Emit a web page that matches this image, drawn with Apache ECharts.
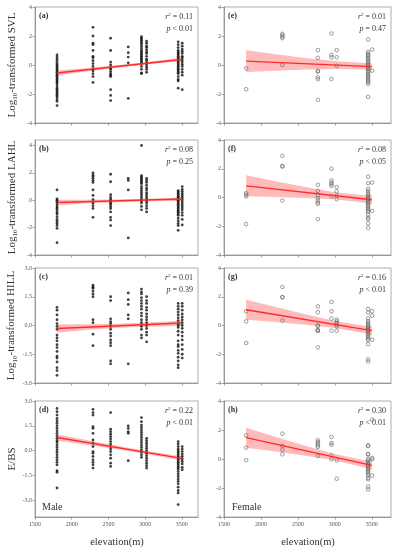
<!DOCTYPE html>
<html><head><meta charset="utf-8">
<script src="https://cdn.jsdelivr.net/npm/echarts@6/dist/echarts.min.js"></script>
<style>html,body{margin:0;padding:0;background:#fff}#c{width:397px;height:550px}</style>
</head><body><div id="c"></div><script>
// ---------- DATA ----------
const maleSites = [1800, 2290, 2530, 2770, 2950, 3020, 3450, 3505];
const femaleSites = [1800, 2290, 2770, 2955, 3025, 3450, 3505];
const xTicks = [1500, 2000, 2500, 3000, 3500];
const yTicks4 = [-4, -2, 0, 2, 4];
const yTicks3 = [-3, -1.5, 0, 1.5, 3];

const maleSVL = [
  [0.7,0.55,0.4,0.25,0.1,0,-0.1,-0.2,-0.3,-0.4,-0.5,-0.6,-0.7,-0.8,-0.9,-1.0,-1.1,-1.2,-1.3,-1.45,-1.6,-1.7,-1.8,-1.9,-2.0,-2.1,-2.2,-2.35,-2.5,-2.8],
  [2.6,2.0,1.5,1.4,1.0,0.6,0.5,0.3,0.1,-0.1,-0.3,-0.4,-0.6,-0.8,-1.2],
  [1.85,1.0,0.2,0.0,-0.2,-0.3,-0.45,-0.6,-0.7,-0.8,-1.7,-2.1,-2.45],
  [1.25,0.85,0.55,0.15,-2.3],
  [1.95,1.85,1.75,1.65,1.55,1.45,1.3,1.15,1.0,0.9,0.8,0.7,0.6,0.5,0.4,0.3,0.2,0.1,-0.1,-0.3,-0.55,-0.6],
  [1.65,1.5,1.3,1.2,1.05,0.9,0.8,0.6,0.4,0.3,0.15,0,-0.15,-0.3,-0.5],
  [1.6,1.4,1.2,1.0,0.9,0.8,0.7,0.6,0.5,0.4,0.3,0.2,0.1,0,-0.1,-0.2,-0.3,-0.4,-0.5,-0.6,-0.8,-1.0,-1.1,-1.6],
  [1.5,1.3,1.1,0.95,0.8,0.6,0.5,0.35,0.2,0.05,-0.1,-0.3,-0.5,-0.7,-1.7]
];
const maleLAHL = [
  [0.75,0.1,0,-0.1,-0.2,-0.35,-0.5,-0.6,-0.75,-0.9,-1.0,-1.2,-1.4,-1.55,-1.7,-1.85,-2.05,-3.1],
  [2.0,1.85,1.75,1.6,1.45,1.3,0.75,0.35,0.05,-0.2,-0.4,-0.6,-1.25],
  [1.9,1.35,0.4,0.2,0.05,-0.05,-0.2,-0.3,-0.45,-0.6,-0.85,-1.25,-1.45,-1.85],
  [1.6,1.45,0.75,-2.75],
  [4.0,1.8,1.7,1.6,1.5,1.4,1.3,1.2,1.0,0.85,0.7,0.55,0.4,0.25,0.1,-0.05,-0.2,-0.45,-0.7],
  [1.6,1.45,1.3,1.1,0.9,0.75,0.55,0.4,0.25,0.1,-0.05,-0.2,-0.4,-0.6,-0.85],
  [0.7,0.6,0.5,0.4,0.3,0.2,0.1,0,-0.1,-0.2,-0.3,-0.4,-0.5,-0.6,-0.7,-0.8,-0.9,-1.0,-1.1,-1.3,-1.5,-1.7,-1.85,-2.2],
  [1.0,0.8,0.65,0.5,0.35,0.2,0.05,-0.1,-0.25,-0.4,-0.55,-0.7,-0.9,-1.1,-1.4,-1.8]
];
const maleHILL = [
  [0.95,0.8,0.55,0.3,0.1,-0.05,-0.2,-0.5,-0.65,-0.8,-1.0,-1.15,-1.35,-1.6,-1.7,-1.9,-2.2,-2.35,-2.6],
  [2.1,2.0,1.95,1.8,1.65,1.5,0.3,0.15,-0.45,-1.05],
  [1.5,1.3,0.35,0.2,0.1,-0.05,-0.2,-0.4,-0.55,-0.75,-0.9,-1.05,-1.85,-2.0],
  [1.7,1.35,1.1,0.55,0.35,-2.0],
  [1.9,1.75,1.65,1.45,1.3,1.15,1.0,0.85,0.65,0.5,0.3,0.15,-0.05,-0.2,-0.5,-0.65],
  [1.5,1.3,1.15,0.95,0.8,0.6,0.45,0.3,0.15,0,-0.15,-0.35,-0.5,-0.85],
  [1.15,1.0,0.85,0.7,0.55,0.4,0.25,0.1,0,-0.1,-0.3,-0.5,-0.8,-1.0,-1.1,-1.3,-1.45,-1.65,-1.85,-2.05,-2.2],
  [1.15,1.0,0.8,0.6,0.45,0.3,0.15,0,-0.15,-0.35,-0.55,-0.75,-1.0,-1.25,-1.5,-1.7]
];
const maleEBS = [
  [2.55,2.35,2.15,1.95,1.8,1.65,1.5,1.35,1.2,1.05,0.9,0.75,0.6,0.5,0.35,0.2,0.05,-0.1,-0.25,-0.4,-0.55,-0.7,-0.85,-1.2,-1.3,-2.25],
  [2.5,2.3,2.15,1.45,1.35,1.05,0.65,0.45,0.25,-0.05,-0.15,-0.35,-0.55,-0.7,-0.85,-1.05],
  [2.3,1.3,1.15,1.0,0.85,0.7,0.55,0.4,0.25,0.1,-0.05,-0.25,-0.45,-0.75,-0.95],
  [1.5,1.35,1.15,1.05,-0.6],
  [2.0,1.75,1.55,1.4,1.25,1.1,0.95,0.8,0.65,0.5,0.35,0.2,0.05,-0.1,-0.25,-0.4],
  [0.75,0.6,0.45,0.3,0.15,0.0,-0.15,-0.3,-0.45,-0.6,-0.75,-0.9,-1.05],
  [0.55,0.4,0.25,0.1,0,-0.1,-0.2,-0.3,-0.4,-0.5,-0.6,-0.7,-0.8,-0.9,-1.0,-1.1,-1.25,-1.4,-1.55,-1.7,-1.85,-2.0,-2.2,-2.4,-2.55,-3.25],
  [0.25,0.1,-0.05,-0.2,-0.35,-0.5,-0.65,-0.8,-1.0,-1.15]
];
const femaleSVL = [
  [-0.23,-1.67],
  [2.15,2.05,1.95,1.85,0],
  [1.03,0.5,-0.4,-0.46,-0.85,-0.98,-2.4],
  [2.17,0.69,0.53,-0.96],
  [1.03,0.53,-0.05],
  [1.76,0.9,0.8,0.7,0.6,0.5,0.4,0.3,0.2,0.1,0.0,-0.1,-0.2,-0.3,-0.4,-0.5,-0.6,-0.7,-0.8,-0.9,-1.0,-1.1,-1.2,-1.3,-2.2],
  [1.07,-0.39]
];
const femaleLAHL = [
  [0.3,0.19,0.07,-1.85],
  [2.9,2.2,2.15,-0.21],
  [0.88,0.46,0.16,-0.05,-0.21,-0.35,-0.44,-1.5],
  [2.0,1.18,1.04,0.93,0.81,0.07],
  [0.72,0.42,0.12,-0.12],
  [1.45,1.0,0.6,0.45,0.3,0.2,0.1,0,-0.1,-0.2,-0.3,-0.4,-0.5,-0.6,-0.7,-0.8,-0.9,-1.0,-1.2,-1.4,-1.5,-1.8,-2.1],
  [1.04,-0.93]
];
const femaleHILL = [
  [0.99,0.29,-1.22],
  [2.68,1.98,1.96,0.36],
  [1.33,0.92,0.01,-0.03,-0.31,-0.34,-0.38,-1.52],
  [1.64,0.99,0.48,-0.36],
  [0.41,0.29,0.17,0.06,-0.06,-0.36],
  [1.15,0.9,0.5,0.3,0.2,0.1,0.0,-0.1,-0.2,-0.3,-0.4,-0.5,-0.6,-0.7,-0.8,-0.9,-1.0,-1.3,-2.35,-2.5],
  [0.99,0.68,-0.99]
];
const femaleEBS = [
  [1.63,0.78,-0.09],
  [1.75,0.9,0.64,0.32],
  [1.29,1.17,1.06,0.94,0.83,0.21],
  [1.52,1.1,0.99,0.25,-0.02],
  [-0.09,-1.36],
  [0.94,0.9,0.35,0.3,0.0,-0.1,-0.2,-0.3,-0.4,-0.5,-0.6,-0.7,-0.8,-0.9,-1.0,-1.1,-1.3,-1.4,-1.9,-2.1],
  [2.71,0.07,-0.02,-1.15]
];

// regression lines (values at fitX) and confidence bands (values at bandX)
const fitX = [1800, 3500];
const fitA = [-0.55, 0.38], fitB = [-0.16, 0.09], fitC = [-0.16, 0.13], fitD = [0.8, -0.46];
const fitE = [0.27, -0.11], fitF = [0.81, -0.16], fitG = [1.1, -0.36], fitH = [1.47, -0.44];
const bandX = [1800, 2200, 2600, 3000, 3400, 3500];
const bandUpA = [-0.38,-0.21,-0.02,0.19,0.44,0.51], bandLoA = [-0.72,-0.45,-0.20,0.03,0.22,0.25];
const bandUpB = [0.04,0.04,0.06,0.11,0.19,0.23],    bandLoB = [-0.36,-0.24,-0.14,-0.07,-0.05,-0.05];
const bandUpC = [0.06,0.06,0.09,0.14,0.24,0.28],    bandLoC = [-0.38,-0.24,-0.13,-0.06,-0.02,-0.02];
const bandUpD = [1.0,0.64,0.31,0.0,-0.27,-0.32],    bandLoD = [0.6,0.36,0.11,-0.18,-0.51,-0.60];
const bandUpE = [1.02,0.75,0.49,0.27,0.13,0.12],    bandLoE = [-0.48,-0.39,-0.31,-0.27,-0.31,-0.34];
const bandUpF = [1.54,1.13,0.73,0.37,0.16,0.16],    bandLoF = [0.08,0.03,-0.03,-0.13,-0.36,-0.48];
const bandUpG = [1.80,1.28,0.78,0.31,-0.01,-0.04],  bandLoG = [0.40,0.24,0.06,-0.17,-0.53,-0.68];
const bandUpH = [2.16,1.52,0.91,0.34,-0.08,-0.12],  bandLoH = [0.78,0.52,0.23,-0.10,-0.58,-0.76];

const panelLabels = ['(a)','(b)','(c)','(d)','(e)','(f)','(g)','(h)'];
const r2Values = ['0.11','0.08','0.01','0.22','0.01','0.08','0.16','0.30'];
const pValues = ['< 0.01','= 0.25','= 0.39','< 0.01','= 0.47','< 0.05','< 0.01','< 0.01'];

// ---------- LAYOUT ----------
const FONT = 'Liberation Serif';
const colLeft = [35, 224], colWidth = [163, 167], colMax = [3720, 3760];
const rowTop = [7, 140, 268, 401], rowHeight = [116, 115, 115, 116];
const TXT = '#333', TICK = '#555', LINE = '#888';

const panels = [
  {col:0,row:0,sites:maleSites,vals:maleSVL,fit:fitA,up:bandUpA,lo:bandLoA,ymin:-4,ymax:4,ticks:yTicks4,dec:0,
   name:'{a|Log}{s|10}{a|-transformed SVL}'},
  {col:0,row:1,sites:maleSites,vals:maleLAHL,fit:fitB,up:bandUpB,lo:bandLoB,ymin:-4,ymax:4.4,ticks:yTicks4,dec:0,
   name:'{a|Log}{s|10}{a|-transformed LAHL}'},
  {col:0,row:2,sites:maleSites,vals:maleHILL,fit:fitC,up:bandUpC,lo:bandLoC,ymin:-3,ymax:3,ticks:yTicks3,dec:1,
   name:'{a|Log}{s|10}{a|-transformed HILL}'},
  {col:0,row:3,sites:maleSites,vals:maleEBS,fit:fitD,up:bandUpD,lo:bandLoD,ymin:-4,ymax:3,ticks:yTicks3,dec:1,
   name:'{a|E/BS}'},
  {col:1,row:0,sites:femaleSites,vals:femaleSVL,fit:fitE,up:bandUpE,lo:bandLoE,ymin:-4,ymax:4,ticks:yTicks4,dec:0},
  {col:1,row:1,sites:femaleSites,vals:femaleLAHL,fit:fitF,up:bandUpF,lo:bandLoF,ymin:-4,ymax:4,ticks:yTicks4,dec:0},
  {col:1,row:2,sites:femaleSites,vals:femaleHILL,fit:fitG,up:bandUpG,lo:bandLoG,ymin:-4,ymax:4,ticks:yTicks4,dec:0},
  {col:1,row:3,sites:femaleSites,vals:femaleEBS,fit:fitH,up:bandUpH,lo:bandLoH,ymin:-4,ymax:4,ticks:yTicks4,dec:0}
];

const grid = [], xAxis = [], yAxis = [], series = [], graphic = [];
panels.forEach((p, i) => {
  const left = colLeft[p.col], top = rowTop[p.row], w = colWidth[p.col], h = rowHeight[p.row];
  grid.push({left, top, width: w, height: h, show: true, borderColor: '#999', borderWidth: 0.8, containLabel: false});
  const lineStyle = {color: LINE, width: 0.8};
  xAxis.push({
    type: 'value', gridIndex: i, min: 1500, max: colMax[p.col],
    axisLine: {show: true, onZero: false, lineStyle}, splitLine: {show: false},
    axisTick: {show: true, length: 2.5, inside: false, customValues: xTicks, lineStyle},
    axisLabel: {show: p.row === 3, customValues: xTicks, fontSize: 6, color: TICK, fontFamily: FONT, margin: 4,
      formatter: v => String(v)}
  });
  yAxis.push({
    type: 'value', gridIndex: i, min: p.ymin, max: p.ymax,
    axisLine: {show: true, onZero: false, lineStyle}, splitLine: {show: false},
    axisTick: {show: true, length: 2.5, customValues: p.ticks, lineStyle},
    axisLabel: {show: true, customValues: p.ticks, fontSize: 6, color: TICK, fontFamily: FONT, margin: 3,
      formatter: v => p.dec ? v.toFixed(1) : String(v)},
    name: p.name || '', nameLocation: 'middle', nameRotate: 90, nameGap: 16,
    nameTextStyle: {color: TXT, fontFamily: FONT, rich: {
      a: {fontSize: 11, fontFamily: FONT, color: TXT, lineHeight: 14},
      s: {fontSize: 7, fontFamily: FONT, color: TXT, lineHeight: 6, verticalAlign: 'bottom'}
    }}
  });
  // band
  series.push({
    type: 'custom', xAxisIndex: i, yAxisIndex: i, silent: true, z: 1,
    data: [[bandX[0], p.lo[0]]],
    renderItem: (params, api) => {
      const upper = bandX.map((x, k) => api.coord([x, p.up[k]]));
      const lower = bandX.map((x, k) => api.coord([x, p.lo[k]])).reverse();
      return {type: 'polygon', shape: {points: upper.concat(lower)}, style: {fill: 'rgba(255,60,60,0.35)'}};
    }
  });
  // points
  const pts = [];
  p.sites.forEach((s, k) => p.vals[k].forEach(v => pts.push([s, v])));
  series.push({
    type: 'scatter', xAxisIndex: i, yAxisIndex: i, data: pts, z: 2,
    symbol: 'circle', symbolSize: p.col === 0 ? 2.8 : 3.6,
    itemStyle: p.col === 0 ? {color: '#111'} : {color: 'rgba(255,255,255,0)', borderColor: '#666', borderWidth: 0.8}
  });
  // regression line
  series.push({
    type: 'line', xAxisIndex: i, yAxisIndex: i, z: 3, showSymbol: false, symbol: 'none',
    data: fitX.map((x, k) => [x, p.fit[k]]),
    lineStyle: {color: '#ff2a2a', width: 1.4}
  });
  // texts
  const lblX = left + 4, rX = left + w - 5;
  graphic.push({type: 'text', x: lblX, y: top + 9, style: {text: panelLabels[i], font: 'bold 8px ' + FONT, fill: TXT, verticalAlign: 'middle'}});
  graphic.push({type: 'text', x: rX, y: top + 10, style: {
    text: '{i|r}{s|2}{n| = ' + r2Values[i] + '}', align: 'right', verticalAlign: 'middle',
    rich: {i: {fontStyle: 'italic', fontSize: 8, fontFamily: FONT, fill: TXT, lineHeight: 10},
           s: {fontSize: 5, fontFamily: FONT, fill: TXT, lineHeight: 5, verticalAlign: 'top'},
           n: {fontSize: 8, fontFamily: FONT, fill: TXT, lineHeight: 10}}}});
  graphic.push({type: 'text', x: rX, y: top + 22, style: {
    text: '{i|p}{n| ' + pValues[i] + '}', align: 'right', verticalAlign: 'middle',
    rich: {i: {fontStyle: 'italic', fontSize: 8, fontFamily: FONT, fill: TXT},
           n: {fontSize: 8, fontFamily: FONT, fill: TXT}}}});
});
graphic.push({type: 'text', x: 42, y: 507, style: {text: 'Male', font: '10px ' + FONT, fill: TXT, verticalAlign: 'middle'}});
graphic.push({type: 'text', x: 232, y: 507, style: {text: 'Female', font: '10px ' + FONT, fill: TXT, verticalAlign: 'middle'}});
graphic.push({type: 'text', x: 117, y: 542, style: {text: 'elevation(m)', font: '10.5px ' + FONT, fill: TXT, align: 'center', verticalAlign: 'middle'}});
graphic.push({type: 'text', x: 308, y: 542, style: {text: 'elevation(m)', font: '10.5px ' + FONT, fill: TXT, align: 'center', verticalAlign: 'middle'}});

const chart = echarts.init(document.getElementById('c'), null, {renderer: 'canvas'});
chart.setOption({animation: false, backgroundColor: '#fff', grid, xAxis, yAxis, series, graphic});
</script></body></html>
